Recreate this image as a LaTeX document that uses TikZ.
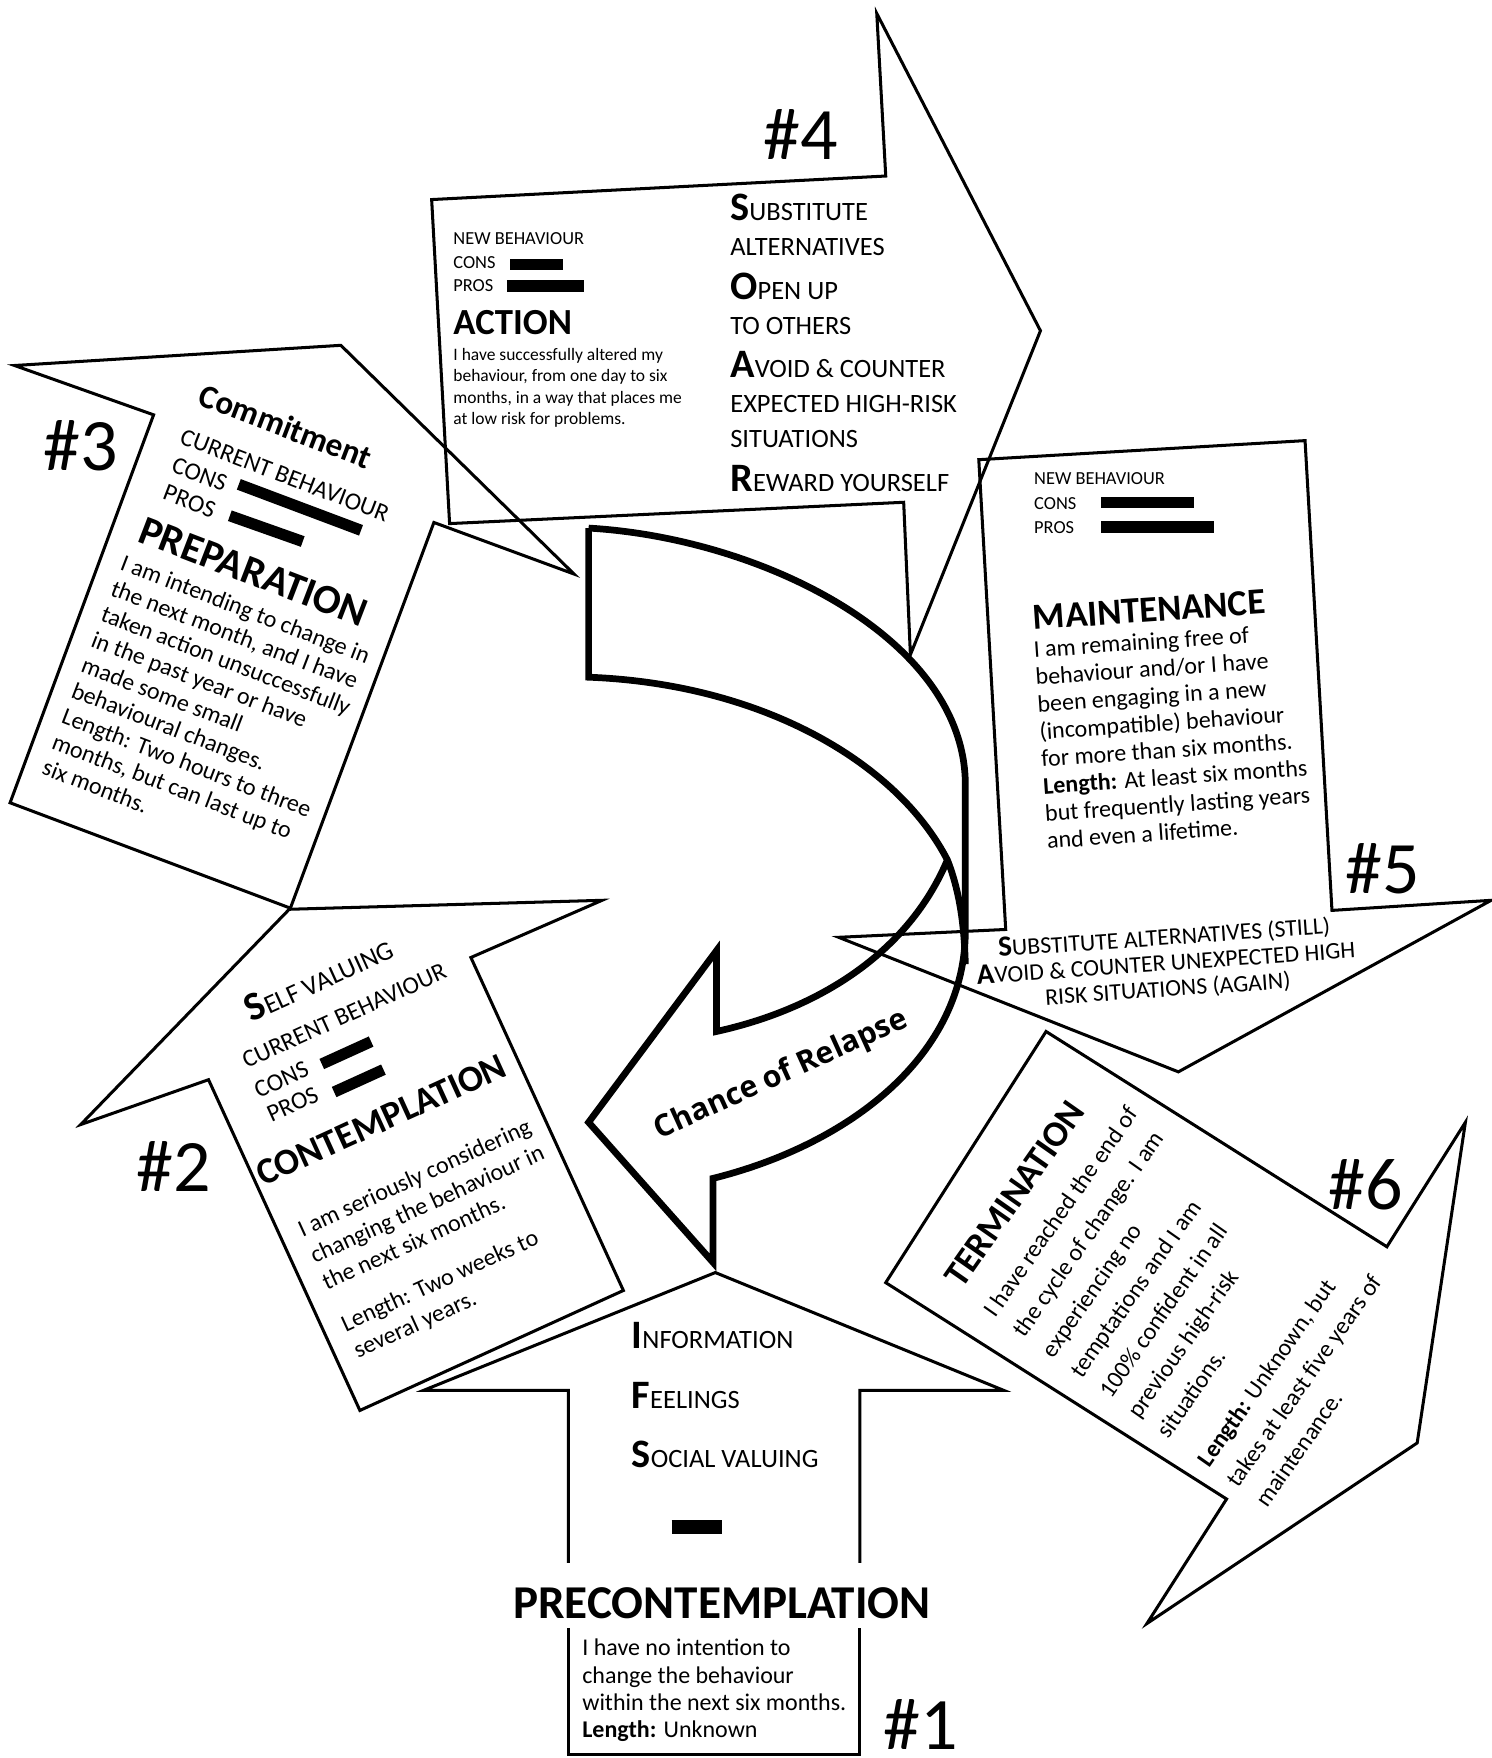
\documentclass[tikz,border=0pt]{standalone}
\usepackage{fontspec}
\setmainfont{Carlito}
\newfontfamily\relapsefont{Open Sans}
\newcommand{\initial}[2][18]{{\bfseries\fontsize{#1}{#1}\selectfont #2}}
\newcommand{\lenlabel}{\textbf{Length:}}

\begin{document}
\begin{tikzpicture}[
  x=0.5pt, y=-0.5pt,
  stage/.style={draw, line width=1.35pt, line join=miter},
  ribbon/.style={draw, line width=3pt, line join=miter},
  bar/.style={line width=5pt},
  num/.style={font=\fontsize{33}{33}\selectfont, inner sep=0pt},
  title/.style={font=\bfseries\fontsize{#1}{#1}\selectfont, inner sep=0pt},
  body/.style={font=\fontsize{10.7}{12.2}\selectfont, align=left, inner sep=0pt},
  tag/.style={font=\fontsize{8.2}{10}\selectfont, inner sep=0pt},
  cbtag/.style={font=\fontsize{11}{11}\selectfont, inner sep=0pt},
  soar/.style={font=\fontsize{11.8}{15.5}\selectfont, align=left, inner sep=0pt},
]
  \useasboundingbox (0,0) rectangle (1330,1568);

  % Stage outlines
  \draw[stage] (507,1394) -- (507,1240) -- (378,1240) -- (638,1135) -- (895,1240) -- (767,1240) -- (767,1394);
  \draw[stage] (507,1452) -- (507,1565) -- (767,1565) -- (767,1452);
  \draw[stage] (258,811) -- (537,803) -- (420,854) -- (556,1151) -- (321,1258) -- (186,963) -- (72,1003) -- cycle;
  \draw[stage] (304,308) -- (512,512) -- (387,466) -- (259,810) -- (9,716) -- (137,370) -- (13,326) -- cycle;
  \draw[stage] (385,178) -- (790,157) -- (782,12) -- (928,295) -- (812,584) -- (806,448) -- (401,467) -- cycle;
  \draw[stage] (873,410) -- (1164,393) -- (1188,812) -- (1330,803) -- (1051,956) -- (748,836) -- (897,829) -- cycle;
  \draw[stage] (933,920) -- (1237,1112) -- (1307,1001) -- (1264,1287) -- (1023,1448) -- (1094,1337) -- (790,1144) -- cycle;

  % Relapse ribbon
  \draw[ribbon] (525,471) .. controls (680,480) and (861,570) .. (861,700) -- (861,830)
    .. controls (861,940) and (760,1020) .. (636,1051) -- (636,1126) -- (525,1001)
    -- (639,848) -- (639,920) .. controls (730,900) and (810,850) .. (845,767);
  \draw[ribbon] (525,471) -- (525,604) .. controls (680,610) and (800,680) .. (845,767)
    .. controls (856,795) and (860,825) .. (861,860);
  \node[font=\relapsefont\bfseries\fontsize{13.5}{13.5}\selectfont, inner sep=0pt, rotate=24.4] (relapse) at (697,959) {Chance of Relapse};

  % #1 Precontemplation
  \node[soar, anchor=base west] (ifs) at (563,1309) {\initial{I}NFORMATION\\[11pt]\initial{F}EELINGS\\[11pt]\initial{S}OCIAL VALUING};
  \draw[bar, line width=6pt] (599,1362) -- (644,1362);
  \node[title=21, anchor=base] (precon) at (644,1444) {PRECONTEMPLATION};
  \node[body, anchor=base west] (preconbody) at (519,1550) {I have no intention to\\change the behaviour\\within the next six months.\\\lenlabel{} Unknown};
  \node[num] (n1) at (821,1538) {\#1};

  % #2 Contemplation
  \node[soar, rotate=24.5] (selfval) at (284,872) {\initial{S}ELF VALUING};
  \node[cbtag, rotate=24.5] (cb2) at (307,906) {CURRENT BEHAVIOUR};
  \node[cbtag, rotate=24.5] (cons2) at (251,963) {CONS};
  \node[cbtag, rotate=24.5] (pros2) at (261,985) {PROS};
  \draw[bar] (287,949) -- (331,929);
  \draw[bar] (298,974) -- (342,954);
  \node[title=16.5, rotate=24.5] (contemp) at (340,999) {CONTEMPLATION};
  \node[body, font=\fontsize{10.75}{13}\selectfont, rotate=24.5, anchor=base west] (contbody) at (319,1212)
    {I am seriously considering\\changing the behaviour in\\the next six months.\\[7.5pt]Length: Two weeks to\\several years.};
  \node[num] (n2) at (155,1040) {\#2};

  % #3 Preparation
  \node[title=14.8, rotate=-21] (commit) at (255,380) {Commitment};
  \node[cbtag, rotate=-21] (cb3) at (254,424) {CURRENT BEHAVIOUR};
  \node[cbtag, rotate=-21] (cons3) at (178,423) {CONS};
  \node[cbtag, rotate=-21] (pros3) at (169,447) {PROS};
  \draw[bar] (213,432) -- (322,473);
  \draw[bar] (205,460) -- (270,483);
  \node[title=18.4, rotate=-21] (prep) at (226,510) {PREPARATION};
  \node[body, rotate=-21, anchor=base west] (prepbody) at (36,690)
    {I am intending to change in\\the next month, and I have\\taken action unsuccessfully\\in the past year or have\\made some small\\behavioural changes.\\Length: Two hours to three\\months, but can last up to\\six months.};
  \node[num] (n3) at (72,398) {\#3};

  % #4 Action
  \node[tag, anchor=west] (nb4) at (404,213) {NEW BEHAVIOUR};
  \node[tag, anchor=west] (cons4) at (404,234) {CONS};
  \node[tag, anchor=west] (pros4) at (404,255) {PROS};
  \draw[bar] (455,236) -- (502,236);
  \draw[bar] (452,255) -- (521,255);
  \node[title=16.4, anchor=west] (action) at (404,288) {ACTION};
  \node[body, font=\fontsize{7.8}{9.6}\selectfont, anchor=base west] (actbody) at (404,379)
    {I have successfully altered my\\behaviour, from one day to six\\months, in a way that places me\\at low risk for problems.};
  \node[soar, anchor=base west] (soar4) at (651,438)
    {\initial{S}UBSTITUTE\\ALTERNATIVES\\[4pt]\initial{O}PEN UP\\TO OTHERS\\[4pt]\initial{A}VOID \& COUNTER\\EXPECTED HIGH-RISK\\SITUATIONS\\[4pt]\initial{R}EWARD YOURSELF};
  \node[num] (n4) at (714,120) {\#4};

  % #5 Maintenance
  \node[tag, anchor=west] (nb5) at (922,427) {NEW BEHAVIOUR};
  \node[tag, anchor=west] (cons5) at (922,449) {CONS};
  \node[tag, anchor=west] (pros5) at (922,471) {PROS};
  \draw[bar] (982,448) -- (1065,448);
  \draw[bar] (982,470) -- (1083,470);
  \node[title=16.4, rotate=4] (maint) at (1025,544) {MAINTENANCE};
  \node[body, rotate=4, anchor=base west] (maintbody) at (934,757)
    {I am remaining free of\\behaviour and/or I have\\been engaging in a new\\(incompatible) behaviour\\for more than six months.\\\lenlabel{} At least six months\\but frequently lasting years\\and even a lifetime.};
  \node[font=\fontsize{10.6}{11.5}\selectfont, align=center, inner sep=0pt, rotate=4] (soar5) at (1040,859)
    {\initial[13]{S}UBSTITUTE ALTERNATIVES (STILL)\\\initial[13]{A}VOID \& COUNTER UNEXPECTED HIGH\\RISK SITUATIONS (AGAIN)};
  \node[num] (n5) at (1233,775) {\#5};

  % #6 Termination
  \node[title=16.2, rotate=55] (term) at (905,1065) {TERMINATION};
  \node[body, font=\fontsize{10.8}{15.7}\selectfont, rotate=55, anchor=base west] (termbody) at (1130,1346)
    {I have reached the end of\\the cycle of change. I am\\experiencing no\\temptations and I am\\100\% confident in all\\previous high-risk\\situations.\\[6.5pt]\lenlabel{} Unknown, but\\takes at least five years of\\maintenance.};
  \node[num] (n6) at (1218,1057) {\#6};
\end{tikzpicture}
\end{document}
